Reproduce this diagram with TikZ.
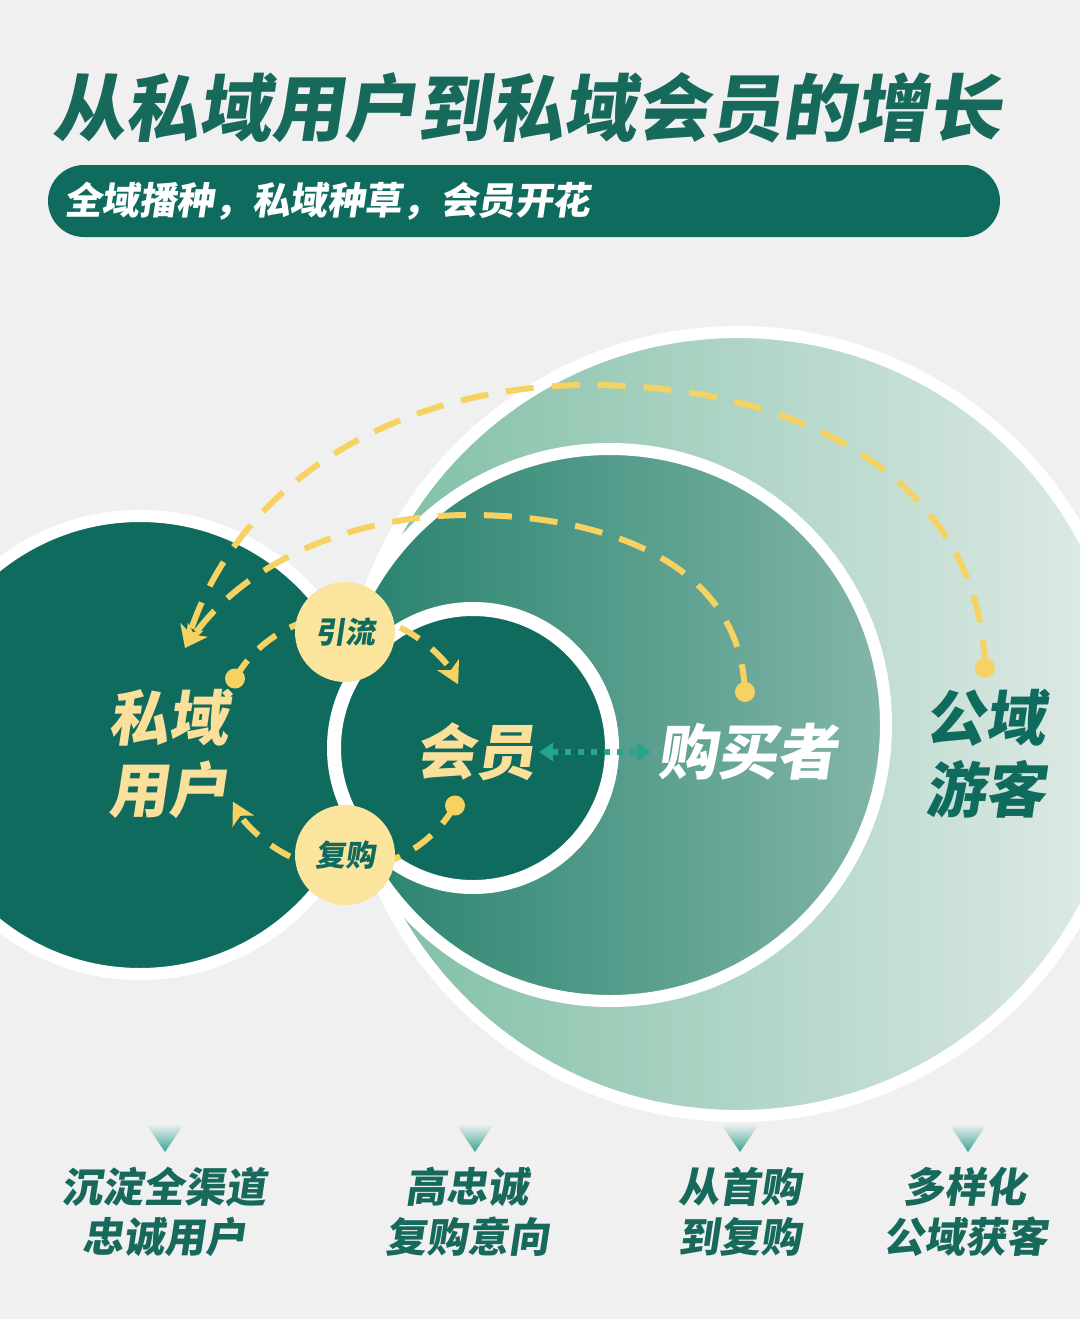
\documentclass[tikz,border=0pt]{standalone}
\usepackage{fontspec}
\usetikzlibrary{arrows.meta}
\newfontfamily\cjk{Noto Sans CJK SC}[FakeSlant=0.15]
\newfontfamily\cjkup{Noto Sans CJK SC}
\definecolor{bg}{HTML}{F0F0F0}
\definecolor{dteal}{HTML}{106B5F}
\definecolor{ttl}{HTML}{17695C}
\definecolor{ylw}{HTML}{F6D262}
\definecolor{ylwfill}{HTML}{FBE49C}
\definecolor{ylwtxt}{HTML}{FAE09A}
\definecolor{pubL}{HTML}{7CBDA3}
\definecolor{pubR}{HTML}{E2ECE8}
\definecolor{buyL}{HTML}{24806B}
\definecolor{buyR}{HTML}{82B6A9}
\definecolor{dotteal}{HTML}{25A48E}
\definecolor{triB}{HTML}{38A493}
\begin{document}
\begin{tikzpicture}[x=1pt,y=-1pt,
  ring/.style={draw=white,line width=12pt},
  bigtxt/.style={font=\cjk\bfseries\fontsize{60}{72}\selectfont,align=center,inner sep=0pt},
  tagnode/.style={circle,fill=ylwfill,minimum size=100pt,inner sep=0pt,text=dteal,font=\cjk\bfseries\fontsize{30}{30}\selectfont},
  ydash/.style={draw=ylw,line width=6pt,dash pattern=on 28pt off 18pt},
  ysmall/.style={draw=ylw,line width=6pt,dash pattern=on 22pt off 16pt},
  ytip/.style={-{Stealth[length=22pt,width=24pt,inset=6pt]}},
  ydot/.style={circle,fill=ylw,minimum size=20pt,inner sep=0pt},
  botlabel/.style={font=\cjk\bfseries\fontsize{41}{50}\selectfont,text=ttl,align=center,inner sep=0pt},
  tri/.style={top color=bg,bottom color=triB}
]
\useasboundingbox (0,0) rectangle (1080,1319);
\fill[bg] (0,0) rectangle (1080,1319);

% title and subtitle
\node[font=\cjk\bfseries\fontsize{73}{73}\selectfont,text=ttl,inner sep=0pt] (title) at (527,108) {从私域用户到私域会员的增长};
\node[fill=dteal,rounded corners=36pt,minimum height=72pt,text width=920pt,inner xsep=16pt,align=left,
      text=white,font=\cjk\bfseries\fontsize{37.6}{38}\selectfont] (sub) at (524,201) {全域播种，私域种草，会员开花};

% circles
\begin{scope}
\clip (0,0) rectangle (1080,1319);
\shadedraw[ring,left color=pubL,right color=pubR] (738,724) circle[radius=392];
\shadedraw[ring,left color=buyL,right color=buyR] (610,725) circle[radius=276];
\filldraw[ring,fill=dteal] (140,745) circle[radius=229];
\filldraw[draw=white,line width=14pt,fill=dteal] (473,748) circle[radius=139];
\end{scope}

% labels in circles
\node[bigtxt,text=ylwtxt] (priv) at (168,754) {私域\\用户};
\node[bigtxt,text=ylwtxt] (member) at (475,752) {会员};
\node[bigtxt,text=white] (buyer) at (747,752) {购买者};
\node[bigtxt,text=dteal] (public) at (985,754) {公域\\游客};

% long dashed arcs
\coordinate (pubdot) at (985,668);
\coordinate (buydot) at (745,692);
\coordinate (tip) at (185,648);
\draw[ydash,ytip] (pubdot) .. controls (980,480) and (800,385) .. (590,385)
   .. controls (400,385) and (240,480) .. (tip);
\draw[ydash,ytip] (buydot) .. controls (740,560) and (600,515) .. (470,515)
   .. controls (340,515) and (240,570) .. (tip);
\node[ydot] at (pubdot) {};
\node[ydot] at (buydot) {};

% small loop
\coordinate (loopA) at (235,678.5);
\coordinate (loopB) at (455,805.5);
\draw[ysmall,ytip] (loopA) arc[start angle=-150,end angle=-27,radius=127];
\draw[ysmall,ytip] (loopB) arc[start angle=30,end angle=152,radius=127];
\node[ydot] at (loopA) {};
\node[ydot] at (loopB) {};
\node[tagnode] (yinliu) at (345,632) {引流};
\node[tagnode] (fugou) at (345,855) {复购};

% dotted double arrow
\draw[draw=dotteal,line width=6pt,dash pattern=on 6pt off 7pt,
      {Triangle[length=14pt,width=18pt]}-{Triangle[length=14pt,width=18pt]},
      shorten <=4pt,shorten >=6pt] (member.east) -- (buyer.west);

% bottom triangles and labels
\foreach \x in {165,475,740,968}{
  \shade[tri] (\x-19,1124) -- (\x+19,1124) -- (\x,1152) -- cycle;
}
\node[botlabel] (b1) at (164,1212) {沉淀全渠道\\忠诚用户};
\node[botlabel] (b2) at (467,1212) {高忠诚\\复购意向};
\node[botlabel] (b3) at (740,1212) {从首购\\到复购};
\node[botlabel] (b4) at (965,1212) {多样化\\公域获客};
\end{tikzpicture}
\end{document}
